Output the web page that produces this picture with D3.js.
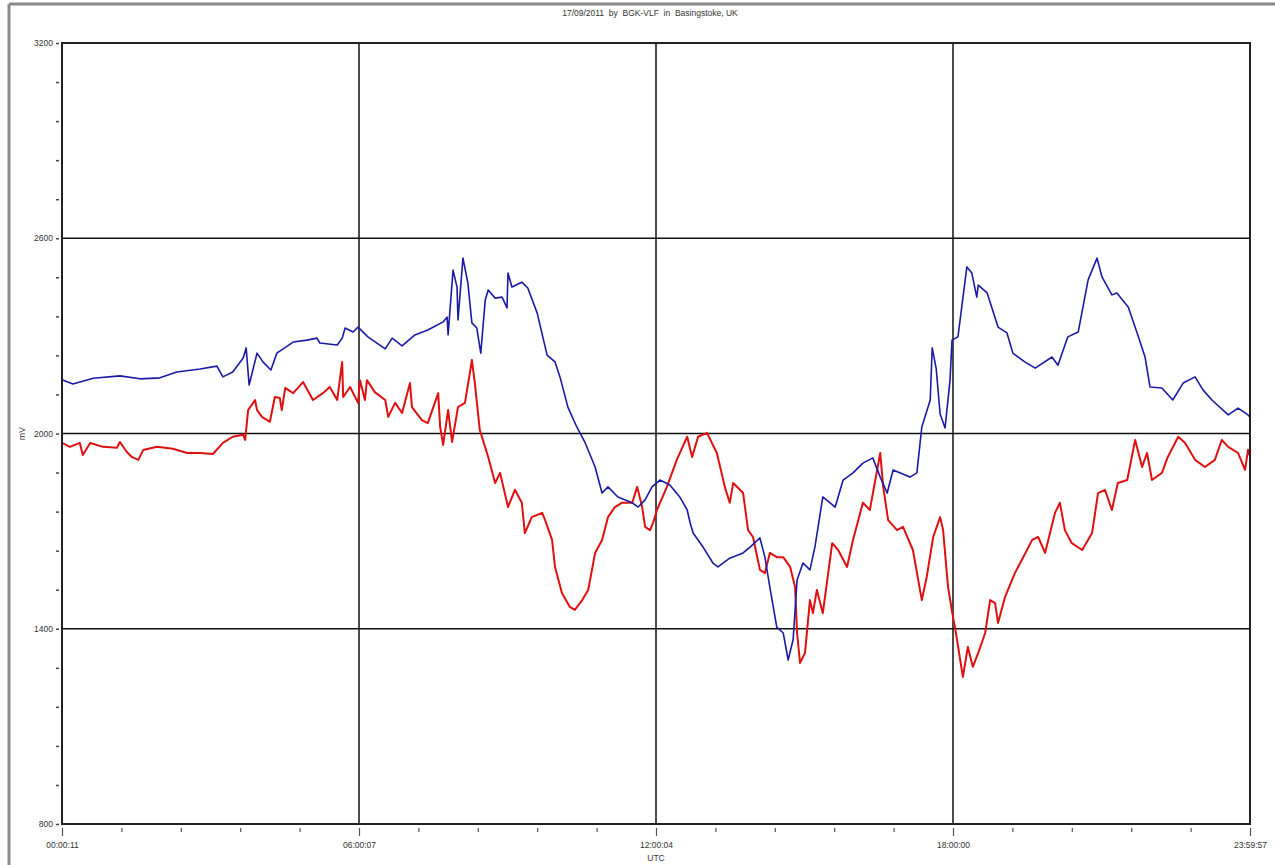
<!DOCTYPE html>
<html>
<head>
<meta charset="utf-8">
<script src="https://cdn.jsdelivr.net/npm/d3@7"></script>
<style>
  body { margin: 0; background: #fff; }
  text { font-family: Arial, "Liberation Sans", sans-serif; }
</style>
</head>
<body>
<svg id="chart" width="1275" height="865"></svg>
<script>
// hours since 00:00:11 and mV
var blueHours = [0.00,0.22,0.63,1.17,1.58,1.98,2.32,2.79,3.13,3.25,3.45,3.66,3.72,3.78,3.94,4.06,4.22,4.34,4.67,4.95,5.15,5.21,5.56,5.66,5.72,5.88,5.98,
  6.18,6.53,6.67,6.87,7.13,7.39,7.70,7.78,7.80,7.90,7.98,8.00,8.10,8.20,8.28,8.38,8.46,8.55,8.61,8.75,8.89,8.99,9.01,9.09,9.29,9.41,9.60,9.80,9.96,
  10.06,10.22,10.40,10.57,10.77,10.91,11.03,11.23,11.52,11.64,11.78,11.92,12.08,12.28,12.48,12.63,12.69,12.75,12.95,13.15,13.25,13.49,13.76,13.90,
  14.10,14.20,14.30,14.44,14.57,14.67,14.77,14.85,14.97,15.11,15.21,15.37,15.62,15.78,15.98,16.18,16.38,16.53,16.67,16.79,17.13,17.27,17.37,17.54,
  17.58,17.66,17.74,17.84,17.94,17.98,18.10,18.28,18.38,18.48,18.51,18.69,18.91,19.09,19.21,19.45,19.66,20.00,20.12,20.32,20.53,20.73,20.91,21.01,
  21.21,21.31,21.54,21.72,21.88,21.98,22.22,22.44,22.65,22.89,23.05,23.23,23.56,23.76,23.96,24.00];
var blueValues = [2165,2152,2170,2177,2168,2171,2189,2198,2207,2174,2189,2232,2263,2149,2247,2220,2195,2247,2281,2287,2293,2278,2272,2293,2324,2312,2327,
  2297,2260,2293,2269,2303,2318,2343,2358,2303,2502,2450,2349,2539,2462,2340,2324,2247,2410,2441,2416,2419,2386,2493,2450,2465,2447,2370,2241,2220,
  2174,2081,2020,1971,1897,1817,1836,1805,1787,1774,1796,1836,1857,1842,1805,1765,1725,1694,1651,1602,1590,1617,1633,1651,
  1679,1620,1528,1405,1387,1304,1366,1550,1602,1581,1651,1805,1774,1857,1879,1909,1925,1866,1817,1888,1866,1879,2020,2103,
  2263,2200,2060,2017,2164,2287,2297,2512,2493,2419,2456,2432,2327,2309,2247,2220,2201,2235,2210,2297,2312,2472,2539,2481,
  2426,2432,2389,2309,2235,2143,2140,2103,2155,2174,2134,2103,2057,2078,2057,2050];

var redHours = [0.00,0.16,0.36,0.42,0.57,0.83,1.11,1.17,1.31,1.41,1.54,1.64,1.92,2.24,2.53,2.79,3.05,3.25,3.45,3.66,3.70,3.76,3.90,3.94,4.04,4.20,
  4.30,4.40,4.44,4.51,4.67,4.87,5.07,5.27,5.41,5.56,5.66,5.68,5.82,5.98,6.02,6.12,6.16,6.32,6.53,6.59,6.73,6.87,7.03,7.07,7.27,7.39,7.60,7.64,7.70,
  7.80,7.88,8.00,8.14,8.24,8.28,8.34,8.44,8.61,8.75,8.85,9.01,9.15,9.29,9.35,9.49,9.70,9.76,9.90,9.96,10.10,10.26,10.36,10.51,10.63,10.77,10.91,
  11.03,11.17,11.31,11.52,11.62,11.72,11.78,11.88,11.94,12.02,12.22,12.42,12.63,12.73,12.85,13.03,13.23,13.39,13.49,13.56,13.76,13.86,13.96,
  14.10,14.20,14.30,14.44,14.57,14.71,14.81,14.85,14.91,15.01,15.11,15.17,15.25,15.37,15.56,15.68,15.86,15.98,16.18,16.32,16.53,16.59,16.69,
  16.87,16.99,17.19,17.37,17.47,17.60,17.74,17.80,17.90,18.00,18.04,18.20,18.30,18.40,18.51,18.65,18.75,18.85,18.91,19.05,19.25,19.39,19.60,
  19.72,19.86,20.06,20.16,20.26,20.40,20.61,20.81,20.93,21.07,21.21,21.33,21.52,21.68,21.82,21.92,22.02,22.22,22.34,22.55,22.69,22.89,23.09,
  23.29,23.43,23.56,23.76,23.90,23.96,24.00];
var redValues = [1971,1959,1971,1934,1971,1959,1956,1974,1943,1928,1919,1949,1959,1953,1940,1940,1937,1971,1990,1996,1980,2072,2103,2072,2051,2036,
  2112,2109,2072,2140,2124,2158,2103,2124,2143,2103,2220,2112,2143,2094,2164,2103,2164,2127,2103,2051,2094,2063,2155,2081,2041,2032,2124,2020,1965,
  2072,1974,2081,2094,2186,2226,2155,2011,1928,1848,1879,1774,1827,1787,1694,1743,1756,1734,1673,1590,1510,1467,1458,1488,1519,1633,1673,
  1743,1774,1787,1787,1836,1774,1713,1703,1725,1765,1836,1919,1990,1928,1990,2002,1940,1836,1787,1848,1817,1703,1682,
  1581,1571,1633,1620,1620,1590,1528,1387,1295,1326,1488,1448,1519,1448,1663,1642,1590,1673,1787,1765,1940,1836,1734,
  1703,1713,1642,1488,1560,1682,1743,1703,1528,1436,1405,1252,1344,1283,1326,1387,1488,1479,1418,1497,1571,1611,1673,
  1682,1633,1756,1787,1703,1663,1642,1694,1817,1827,1765,1848,1857,1980,1897,1940,1857,1879,1928,1990,1971,1919,1897,
  1919,1980,1959,1940,1888,1950,1930];

var xTickHours = [0, 6, 12, 18, 24];
var xTickLabels = ["00:00:11", "06:00:07", "12:00:04", "18:00:00", "23:59:57"];
var yTickLabels = [800, 1400, 2000, 2600, 3200];
var titleText = "17/09/2011  by  BGK-VLF  in  Basingstoke, UK";

var svg = d3.select("#chart");
var plotL = 62, plotR = 1250, plotT = 43, plotB = 824;

var x = d3.scaleLinear().domain([0, 24]).range([plotL, plotR]);
var y = d3.scaleLinear().domain([800, 3200]).range([plotB, plotT]);

// outer window frame
svg.append("line").attr("x1", 9).attr("x2", 9).attr("y1", 4).attr("y2", 865)
  .style("stroke", "#8a8a8a").style("stroke-width", 3);
svg.append("line").attr("x1", 9).attr("x2", 1275).attr("y1", 4).attr("y2", 4)
  .style("stroke", "#8a8a8a").style("stroke-width", 3);

svg.append("text")
  .attr("x", 650).attr("y", 16)
  .attr("text-anchor", "middle")
  .style("font-size", "8.5px").style("fill", "#333")
  .style("white-space", "pre")
  .text(titleText);

// grid
var g = svg.append("g");
g.selectAll(".hgrid")
  .data(yTickLabels.slice(1, -1))
  .enter().append("line")
  .attr("x1", plotL).attr("x2", plotR)
  .attr("y1", function(d){ return y(d); }).attr("y2", function(d){ return y(d); })
  .style("stroke", "#111").style("stroke-width", 1.5);
g.selectAll(".vgrid")
  .data(xTickHours.slice(1, -1))
  .enter().append("line")
  .attr("y1", plotT).attr("y2", plotB)
  .attr("x1", function(d){ return x(d); }).attr("x2", function(d){ return x(d); })
  .style("stroke", "#111").style("stroke-width", 1.5);

// y axis ticks (every 120 mV, labels every 600)
var yAxis = d3.axisLeft(y)
  .tickValues(d3.range(800, 3201, 120))
  .tickSize(3)
  .tickPadding(3)
  .tickFormat(function(d){ return yTickLabels.indexOf(d) >= 0 ? d : ""; });
var ya = svg.append("g").attr("transform", "translate(" + (plotL - 3) + ",0)").call(yAxis);
ya.select(".domain").remove();
ya.selectAll("line").style("stroke", "#444").style("stroke-width", 1.5);
ya.selectAll("text").style("font-size", "8.5px").style("fill", "#333").style("font-family", "Arial, 'Liberation Sans', sans-serif");

// x axis ticks (every 1.2 h, labels at the 6 h marks)
var xAxis = d3.axisBottom(x)
  .tickValues(d3.range(0, 24.01, 1.2))
  .tickSize(4)
  .tickPadding(10)
  .tickFormat(function(d){
    var i = xTickHours.findIndex(function(h){ return Math.abs(h - d) < 0.01; });
    return i >= 0 ? xTickLabels[i] : "";
  });
var xa = svg.append("g").attr("transform", "translate(0," + (plotB + 4) + ")").call(xAxis);
xa.select(".domain").remove();
xa.selectAll("line").style("stroke", "#555").style("stroke-width", 1.2)
  .attr("y2", function(d){ return xTickHours.some(function(h){ return Math.abs(h - d) < 0.01; }) ? 8 : 4; });
xa.selectAll("text").style("font-size", "8.5px").style("fill", "#333").style("font-family", "Arial, 'Liberation Sans', sans-serif");

svg.append("text")
  .attr("x", x(12)).attr("y", 861)
  .attr("text-anchor", "middle")
  .style("font-size", "8.5px").style("fill", "#333")
  .text("UTC");

svg.append("text")
  .attr("transform", "translate(25," + y(2000) + ") rotate(-90)")
  .attr("text-anchor", "middle")
  .style("font-size", "8.5px").style("fill", "#333")
  .text("mV");

// data lines
var line = d3.line()
  .x(function(d){ return x(d[0]); })
  .y(function(d){ return y(d[1]); });

svg.append("path")
  .datum(d3.zip(redHours, redValues))
  .attr("d", line)
  .style("fill", "none").style("stroke", "#e01010").style("stroke-width", 2)
  .style("stroke-linejoin", "round");

svg.append("path")
  .datum(d3.zip(blueHours, blueValues))
  .attr("d", line)
  .style("fill", "none").style("stroke", "#1a1aa6").style("stroke-width", 1.6)
  .style("stroke-linejoin", "round");

// plot frame
svg.append("rect")
  .attr("x", plotL).attr("y", plotT)
  .attr("width", plotR - plotL).attr("height", plotB - plotT)
  .style("fill", "none").style("stroke", "#222").style("stroke-width", 2);
</script>
</body>
</html>
